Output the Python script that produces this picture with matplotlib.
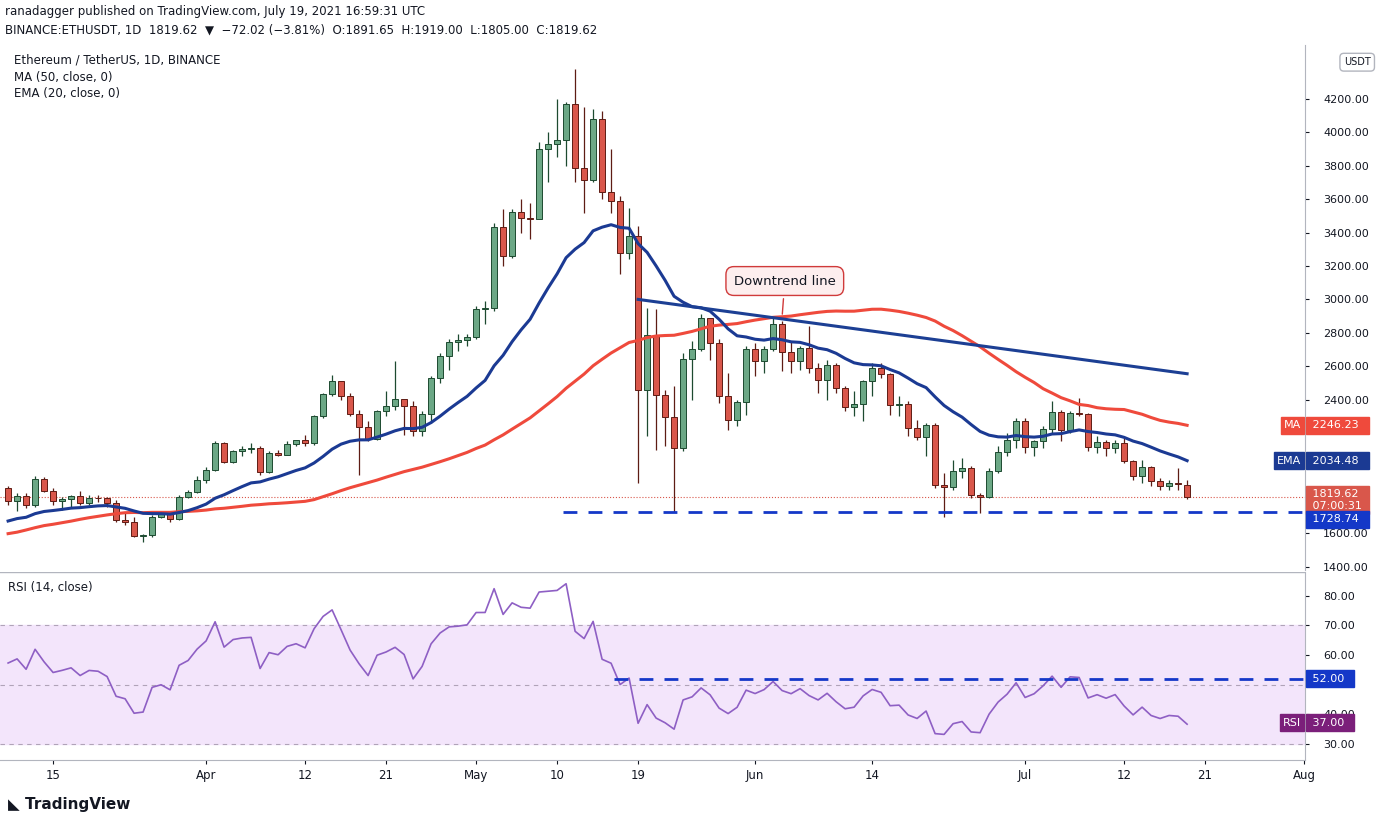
import numpy as np
import matplotlib.pyplot as plt

# ====================== ETH/USDT daily, Mar 10 - Jul 19 2021 ======================

# closes before the window, only used to warm up MA50 / EMA20 / RSI14
prior_closes = [1380, 1120, 1230, 1235, 1390, 1325, 1365, 1240, 1330, 1380,
                1380, 1315, 1370, 1510, 1660, 1595, 1720, 1680, 1615, 1750,
                1770, 1745, 1785, 1840, 1815, 1800, 1780, 1780, 1845, 1940,
                1960, 1935, 1935, 1780, 1570, 1625, 1475, 1450, 1460, 1420,
                1565, 1490, 1575, 1540, 1530, 1660, 1720, 1835, 1870]

closes = [1795, 1826, 1770, 1924, 1854, 1791, 1806, 1823, 1782, 1813,
          1809, 1784, 1682, 1668, 1582, 1587, 1700, 1713, 1688, 1817,
          1846, 1919, 1977, 2143, 2028, 2093, 2107, 2112, 1964, 2082,
          2071, 2136, 2157, 2139, 2299, 2432, 2514, 2422, 2316, 2236,
          2162, 2331, 2361, 2404, 2364, 2212, 2311, 2532, 2664, 2746,
          2756, 2773, 2945, 2946, 3432, 3262, 3522, 3490, 3484, 3902,
          3928, 3952, 4169, 3785, 3715, 4079, 3640, 3587, 3276, 3381,
          2460, 2784, 2430, 2296, 2109, 2643, 2706, 2888, 2736, 2419,
          2279, 2388, 2706, 2634, 2706, 2855, 2688, 2630, 2711, 2592,
          2517, 2610, 2472, 2353, 2372, 2509, 2590, 2552, 2366, 2372,
          2231, 2179, 2248, 1889, 1875, 1971, 1990, 1830, 1818, 1973,
          2084, 2160, 2275, 2114, 2150, 2227, 2325, 2217, 2322, 2316,
          2117, 2146, 2111, 2140, 2032, 1940, 1995, 1911, 1880, 1899,
          1892, 1819.62]

highs = [1880, 1840, 1840, 1940, 1935, 1870, 1820, 1830, 1850, 1830,
         1830, 1815, 1800, 1720, 1700, 1595, 1710, 1730, 1730, 1830,
         1860, 1940, 1995, 2150, 2145, 2100, 2120, 2140, 2120, 2090,
         2100, 2150, 2160, 2190, 2310, 2440, 2550, 2510, 2440, 2340,
         2270, 2340, 2450, 2630, 2400, 2390, 2330, 2540, 2680, 2760,
         2790, 2790, 2960, 2990, 3460, 3540, 3540, 3600, 3580, 3940,
         4000, 4200, 4180, 4380, 4150, 4140, 4130, 3900, 3620, 3550,
         3440, 2950, 2940, 2460, 2480, 2680, 2750, 2910, 2890, 2760,
         2560, 2400, 2720, 2740, 2720, 2890, 2870, 2750, 2720, 2840,
         2620, 2640, 2620, 2480, 2450, 2520, 2620, 2620, 2560, 2420,
         2390, 2280, 2260, 2260, 1960, 2040, 2050, 2000, 1840, 1990,
         2120, 2200, 2290, 2290, 2160, 2240, 2390, 2340, 2330, 2410,
         2320, 2180, 2160, 2160, 2170, 2040, 2040, 2000, 1930, 1920,
         1990, 1919]

lows = [1770, 1735, 1750, 1760, 1845, 1770, 1740, 1750, 1770, 1770,
        1790, 1760, 1670, 1650, 1575, 1545, 1580, 1690, 1670, 1680,
        1810, 1840, 1900, 1970, 2020, 2020, 2060, 2080, 1950, 1960,
        2060, 2070, 2120, 2120, 2130, 2290, 2420, 2400, 2300, 1950,
        2150, 2160, 2300, 2340, 2190, 2180, 2180, 2260, 2500, 2580,
        2690, 2720, 2760, 2850, 2930, 3200, 3250, 3400, 3360, 3480,
        3700, 3850, 3800, 3700, 3520, 3700, 3600, 3520, 3150, 3240,
        1900, 2180, 2100, 2120, 1730, 2090, 2400, 2690, 2640, 2380,
        2220, 2240, 2310, 2540, 2560, 2690, 2570, 2560, 2580, 2560,
        2440, 2400, 2440, 2330, 2300, 2270, 2420, 2530, 2310, 2300,
        2180, 2160, 2060, 1870, 1700, 1860, 1930, 1810, 1720, 1810,
        1960, 2060, 2110, 2080, 2060, 2110, 2200, 2150, 2200, 2300,
        2090, 2080, 2060, 2080, 2020, 1920, 1900, 1880, 1860, 1860,
        1860, 1805]

tick_days = [5, 22, 33, 42, 52, 61, 70, 83, 96, 113, 124, 133, 144]
tick_labels = ['15', 'Apr', '12', '21', 'May', '10', '19', 'Jun', '14', 'Jul', '12', '21', 'Aug']

price_ticks = [1400, 1600, 2400, 2600, 2800, 3000, 3200, 3400, 3600, 3800, 4000, 4200]
rsi_ticks = [30, 40, 60, 70, 80]

trend_days = [70, 131]          # May 19 -> Jul 19
trend_prices = [3000, 2555]
support = 1728.74
rsi_level = 52.0

UP, DOWN = '#6ca886', '#d9574b'
UP_EDGE, DOWN_EDGE = '#1d4a30', '#5e1c14'
MA_C, EMA_C, TL_C = '#ef4a3c', '#1b3a93', '#1c3f94'
RSI_C = '#8e5fc4'

# ====================== Indicators ======================
allc = np.array(prior_closes + closes, dtype=float)
N = len(closes)
days = np.arange(N)
c = np.array(closes, dtype=float)
o = np.concatenate([[prior_closes[-1]], c[:-1]])
o[-1] = 1891.65

ma50 = np.convolve(allc, np.ones(50) / 50, mode='valid')[-N:]

ema = np.zeros_like(allc)
ema[0] = allc[0]
a = 2 / 21
for i in range(1, len(allc)):
    ema[i] = a * allc[i] + (1 - a) * ema[i - 1]
ema20 = ema[-N:]

delta = np.diff(allc)
gain = np.clip(delta, 0, None)
loss = np.clip(-delta, 0, None)
ag, al = gain[:14].mean(), loss[:14].mean()
rsi_all = []
for i in range(14, len(delta)):
    ag = (ag * 13 + gain[i]) / 14
    al = (al * 13 + loss[i]) / 14
    rsi_all.append(100 - 100 / (1 + ag / al))
rsi = np.array(rsi_all)[-N:]

# ====================== Visualization ======================
W, H = 1376, 823
fig = plt.figure(figsize=(W / 100, H / 100), dpi=100)
ax = fig.add_axes([0, (H - 570) / H, 1305 / W, 525 / H])
ax2 = fig.add_axes([0, (H - 760) / H, 1305 / W, 188 / H], sharex=ax)

xmin, xmax = -0.9, 144.1
ax.set_xlim(xmin, xmax)
ax.set_ylim(1380, 4523)

# candles
up = c >= o
colors = np.where(up, UP, DOWN)
edges = np.where(up, UP_EDGE, DOWN_EDGE)
ax.vlines(days, lows, highs, colors=edges, linewidth=0.9, zorder=2)
ax.bar(days, np.abs(c - o), bottom=np.minimum(o, c), width=0.68,
       color=colors, edgecolor=edges, linewidth=0.7, zorder=3)

ax.plot(days, ma50, color=MA_C, linewidth=2.2, zorder=4)
ax.plot(days, ema20, color=EMA_C, linewidth=2.2, zorder=4)
ax.plot(trend_days, trend_prices, color=TL_C, linewidth=2.2, zorder=4)
ax.hlines(support, 61.7, xmax, colors='#1438c8', linestyles=(0, (5, 4)), linewidth=2, zorder=4)
ax.axhline(c[-1], color=DOWN, linestyle=':', linewidth=0.8, zorder=1)

ax.annotate('Downtrend line', xy=(86, 2895), xytext=(86.3, 3110),
            ha='center', va='center', fontsize=9.5, color='#131722',
            bbox=dict(boxstyle='round,pad=0.6', fc='#fdeeee', ec='#d03a3a', lw=1),
            arrowprops=dict(arrowstyle='-', color='#d03a3a', lw=1))

ax.yaxis.tick_right()
ax.set_yticks(price_ticks)
ax.set_yticklabels([f'{v:.2f}' for v in price_ticks])
ax.tick_params(axis='y', labelsize=8, colors='#131722', length=3, pad=10)
ax.tick_params(axis='x', bottom=False, labelbottom=False)
for s in ['top', 'left', 'bottom']:
    ax.spines[s].set_visible(False)
ax.spines['right'].set_color('#b2b5be')

def tag(axis, y, text, fc, x=1.0, ha='left', fs=8):
    axis.annotate(text, xy=(x, y), xycoords=('axes fraction', 'data'),
                  ha=ha, va='center', fontsize=fs, color='white', zorder=10,
                  annotation_clip=False,
                  bbox=dict(boxstyle='square,pad=0.3', fc=fc, ec=fc))

tag(ax, ma50[-1], f' {ma50[-1]:.2f}  ', MA_C, x=1.003)
tag(ax, ma50[-1], 'MA', MA_C, x=0.997, ha='right')
tag(ax, ema20[-1], f' {ema20[-1]:.2f}  ', EMA_C, x=1.003)
tag(ax, ema20[-1], 'EMA', EMA_C, x=0.997, ha='right')
tag(ax, 1800, f' {c[-1]:.2f}  \n 07:00:31', DOWN, x=1.003)
tag(ax, support - 45, f' {support:.2f}  ', '#1438c8', x=1.003)
ax.annotate('USDT', xy=(1.04, 4420), xycoords=('axes fraction', 'data'), ha='center',
            va='center', fontsize=7, color='#131722', annotation_clip=False,
            bbox=dict(boxstyle='round,pad=0.4', fc='white', ec='#b2b5be'))

# RSI
ax2.set_ylim(24.5, 88)
ax2.axhspan(30, 70, color='#f3e5fb', zorder=0)
for lv in [30, 50, 70]:
    ax2.axhline(lv, color='#b0a3b8', linestyle=(0, (4, 4)), linewidth=0.8, zorder=1)
ax2.plot(days, rsi, color=RSI_C, linewidth=1.2, zorder=3)
ax2.hlines(rsi_level, 67.3, xmax, colors='#1438c8', linestyles=(0, (5, 4)), linewidth=2, zorder=4)
ax2.yaxis.tick_right()
ax2.set_yticks(rsi_ticks)
ax2.set_yticklabels([f'{v:.2f}' for v in rsi_ticks])
ax2.tick_params(axis='y', labelsize=8, colors='#131722', length=3, pad=10)
ax2.set_xticks(tick_days)
ax2.set_xticklabels(tick_labels)
ax2.tick_params(axis='x', labelsize=8.5, colors='#131722', length=3)
for s in ['top', 'left']:
    ax2.spines[s].set_visible(False)
for s in ['right', 'bottom']:
    ax2.spines[s].set_color('#b2b5be')
ax2.axhline(88, color='#b2b5be', linewidth=1)
tag(ax2, rsi_level, f' {rsi_level:.2f}  ', '#1438c8', x=1.003)
tag(ax2, rsi[-1] + 0.5, f' {37.00:.2f}  ', '#7b1f7a', x=1.003)
tag(ax2, rsi[-1] + 0.5, 'RSI', '#7b1f7a', x=0.997, ha='right')
ax2.text(0.006, 0.9, 'RSI (14, close)', transform=ax2.transAxes, fontsize=8.5, color='#131722')

# header / legend texts
fig.text(5 / W, 1 - 12 / H, 'ranadagger published on TradingView.com, July 19, 2021 16:59:31 UTC',
         fontsize=8.5, color='#131722', va='center')
fig.text(5 / W, 1 - 30 / H, 'BINANCE:ETHUSDT, 1D  1819.62  \u25bc  \u221272.02 (\u22123.81%)  '
         'O:1891.65  H:1919.00  L:1805.00  C:1819.62', fontsize=8.5, color='#131722', va='center')
for k, t in enumerate(['Ethereum / TetherUS, 1D, BINANCE', 'MA (50, close, 0)', 'EMA (20, close, 0)']):
    fig.text(14 / W, 1 - (60 + 17 * k) / H, t, fontsize=8.5, color='#131722', va='center')
fig.text(8 / W, 1 - 804 / H, '\u25e3 TradingView', fontsize=11, fontweight='bold',
         color='#131722', va='center')

fig.savefig('out.png', dpi=100)
